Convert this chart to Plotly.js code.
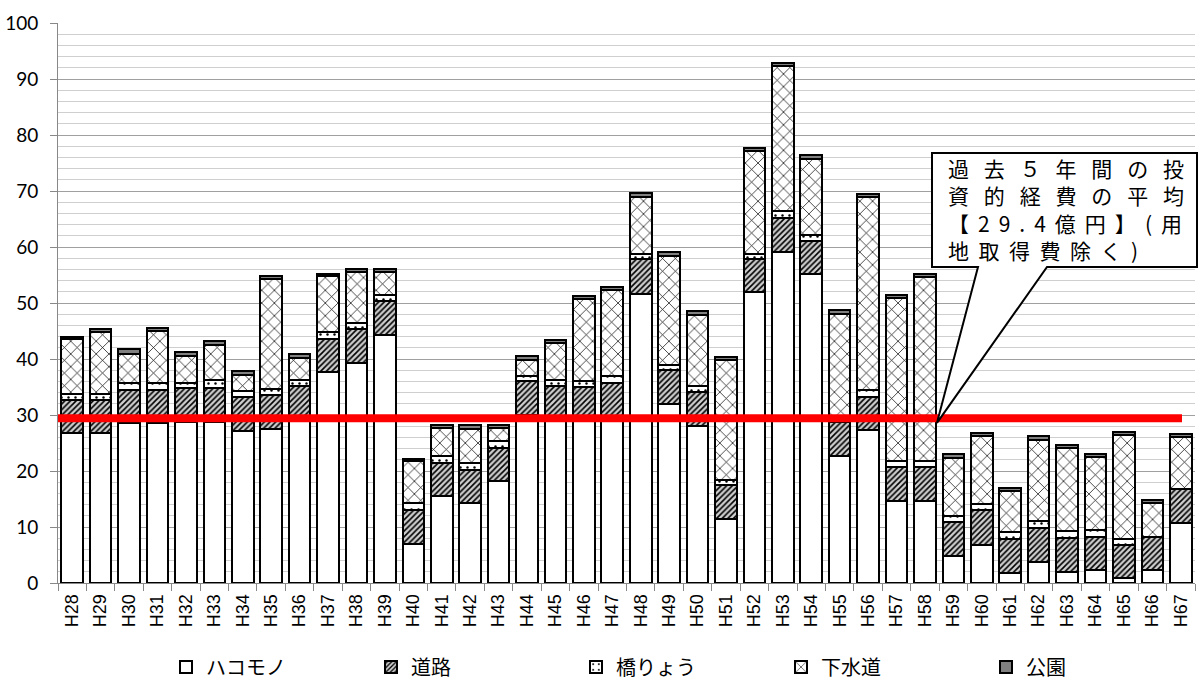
<!DOCTYPE html>
<html>
<head>
<meta charset="utf-8">
<script src="https://cdn.plot.ly/plotly-3.0.1.min.js"></script>
<style>
  html, body { margin: 0; padding: 0; background: #fff; }
  #chart { width: 1198px; height: 682px; }
</style>
</head>
<body>
<div id="chart"></div>
<script>
// 年度（平成28年度〜平成67年度）
const years = ['H28','H29','H30','H31','H32','H33','H34','H35','H36','H37','H38','H39',
               'H40','H41','H42','H43','H44','H45','H46','H47','H48','H49','H50','H51',
               'H52','H53','H54','H55','H56','H57','H58','H59','H60','H61','H62','H63',
               'H64','H65','H66','H67'];

// 分野別の投資的経費（億円）
const hakomono = [26.7,26.7,28.6,28.6,28.8,28.8,27.1,27.55,29.1,37.7,39.3,44.3,
                  7.0,15.5,14.3,18.3,30.0,29.2,29.0,29.5,51.65,32.0,28.1,11.5,
                  51.9,59.05,55.2,22.7,27.25,14.7,14.7,4.9,6.85,1.8,3.75,1.95,
                  2.25,0.9,2.25,10.8];
const douro = [6.0,6.0,5.9,5.9,6.0,6.0,6.2,6.05,6.0,5.9,6.05,6.0,
               6.1,6.0,5.9,5.8,6.0,6.0,6.0,6.3,6.2,6.1,6.0,6.05,
               5.95,6.15,5.8,6.0,6.05,6.1,6.1,6.0,6.25,6.05,6.15,6.05,
               6.05,5.95,6.05,6.0];
const kyouryou = [1.1,1.1,1.3,1.3,0.9,1.4,0.9,1.0,1.2,1.3,1.05,1.2,
                  1.2,1.1,1.2,1.2,1.0,1.0,1.0,1.1,0.95,0.9,1.0,0.9,
                  0.95,1.15,1.2,0.9,1.2,0.9,0.9,1.1,1.05,1.2,1.1,1.2,
                  1.2,1.0,0,0];
const gesuidou = [9.8,11.0,5.1,9.25,4.9,6.35,3.0,19.6,3.9,9.85,9.1,4.0,
                  7.4,5.1,6.15,2.4,2.9,6.65,14.7,15.35,10.2,19.45,12.8,21.3,
                  18.3,25.9,13.5,18.5,34.35,29.2,32.9,10.4,12.05,7.3,14.6,14.9,
                  13.0,18.5,6.0,9.2];
const kouen = [0.4,0.6,0.8,0.45,0.6,0.65,0.6,0.6,0.7,0.45,0.55,0.55,
               0.5,0.45,0.6,0.45,0.6,0.6,0.6,0.6,0.65,0.6,0.6,0.6,
               0.6,0.6,0.65,0.6,0.6,0.6,0.6,0.6,0.6,0.6,0.6,0.6,
               0.5,0.6,0.45,0.6];

// 過去5年間の投資的経費の平均（億円）
const AVERAGE = 29.4;

const seriesNames = ['ハコモノ', '道路', '橋りょう', '下水道', '公園'];
const calloutLines = ['過去５年間の投', '資的経費の平均', '【29.4億円】(用', '地取得費除く)'];

// plot area in page pixels
const W = 1198, H = 682;
const M = { l: 58, r: 3, t: 23, b: 99, autoexpand: false };
const plotW = W - M.l - M.r, plotH = H - M.t - M.b;
const px = x => (x - M.l) / plotW;       // page x -> paper x
const py = y => (H - M.b - y) / plotH;   // page y -> paper y

const outline = { color: '#000', width: 2 };
function barTrace(name, values, marker) {
  return { type: 'bar', name: name, x: years, y: values,
           marker: Object.assign({ line: outline }, marker),
           hoverinfo: 'x+y+name' };
}

const traces = [
  barTrace(seriesNames[0], hakomono, { color: '#fff' }),
  barTrace(seriesNames[1], douro, { color: '#fff',
    pattern: { shape: '/', fgcolor: '#000', bgcolor: '#cfcfcf', size: 4, solidity: 0.4 } }),
  barTrace(seriesNames[2], kyouryou, { color: '#fff',
    pattern: { shape: '.', fgcolor: '#000', bgcolor: '#fff', size: 7, solidity: 0.1 } }),
  barTrace(seriesNames[3], gesuidou, { color: '#fff',
    pattern: { shape: 'x', fgcolor: '#000', bgcolor: '#fff', size: 9, solidity: 0.15 } }),
  barTrace(seriesNames[4], kouen, { color: '#808080' })
];

// callout balloon pointing at the average line
const boxL = 932, boxT = 153, boxR = 1197, boxB = 267, baseA = 978, baseB = 1047, tipX = 937;
const boxTop = (H - M.b - boxT) / plotH * 100, boxBot = (H - M.b - boxB) / plotH * 100;
const tipY = AVERAGE - 0.8;
const calloutPath = `M${px(boxL)},${boxTop} L${px(boxR)},${boxTop} L${px(boxR)},${boxBot} ` +
                    `L${px(baseB)},${boxBot} L${px(tipX)},${tipY} L${px(baseA)},${boxBot} ` +
                    `L${px(boxL)},${boxBot} Z`;

// spread width of each balloon row, page pixels
const rowW = [236, 236, 234, 190];

const layout = {
  width: W, height: H,
  margin: M,
  paper_bgcolor: '#fff', plot_bgcolor: '#fff',
  barmode: 'stack', bargap: 0.24,
  showlegend: true,
  legend: {
    orientation: 'h', x: px(166), y: py(667), xanchor: 'left', yanchor: 'middle',
    entrywidth: 160, entrywidthmode: 'pixels', traceorder: 'normal',
    font: { family: 'Noto Sans CJK JP', size: 20, color: '#000' }
  },
  xaxis: {
    type: 'category', tickangle: -90, showline: true, linecolor: '#888', linewidth: 1,
    ticks: 'outside', tickson: 'boundaries', ticklen: 7, tickcolor: '#888',
    showgrid: false, ticklabelstandoff: 3,
    tickfont: { family: 'Liberation Sans', size: 18, color: '#000' }
  },
  yaxis: {
    range: [0, 100], dtick: 10, showline: true, linecolor: '#888', linewidth: 1,
    ticks: 'outside', ticklen: 7, tickcolor: '#888',
    gridcolor: '#a0a0a0', gridwidth: 1, zeroline: false, ticklabelstandoff: 8,
    minor: { dtick: 2, showgrid: true, gridcolor: '#cfcfcf', gridwidth: 1 },
    tickfont: { family: 'Lato', size: 19, color: '#000' }
  },
  shapes: [
    { type: 'line', xref: 'paper', yref: 'y', x0: 0, x1: px(1182), y0: AVERAGE, y1: AVERAGE,
      line: { color: '#ff0000', width: 8 }, layer: 'above' },
    { type: 'path', xref: 'paper', yref: 'y', path: calloutPath,
      fillcolor: '#fff', line: { color: '#000', width: 2 }, layer: 'above' }
  ],
  annotations: [{
    xref: 'paper', yref: 'paper', x: px(946), y: py(209),
    xanchor: 'left', yanchor: 'middle', align: 'left', showarrow: false,
    text: calloutLines.join('<br>'),
    font: { family: 'Noto Sans CJK JP', size: 21, color: '#000' }
  }]
};

Plotly.newPlot('chart', traces, layout, { displayModeBar: false, staticPlot: true }).then(() => {
  // spread each balloon row across the box width
  const rows = document.querySelectorAll('.annotation-text tspan.line');
  rows.forEach((el, i) => {
    el.setAttribute('textLength', rowW[i]);
    el.setAttribute('lengthAdjust', 'spacing');
  });
});
</script>
</body>
</html>
